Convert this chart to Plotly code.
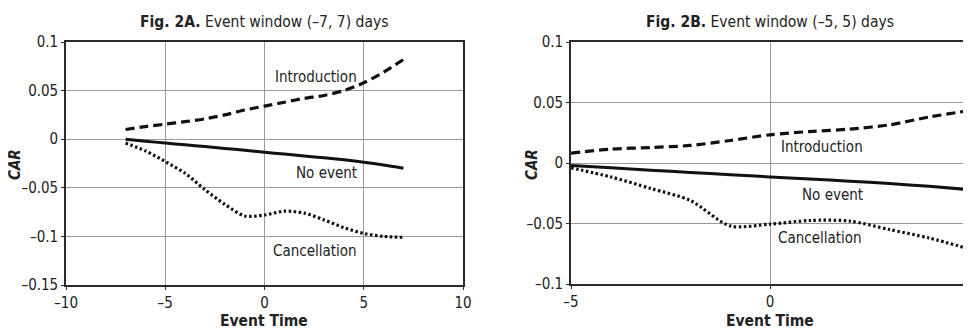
import plotly.graph_objects as go

# ---- data ----
days_a = [-7, -6, -5, -4, -3, -2, -1, 0, 1, 2, 3, 4, 5, 6, 7]
intro_a = [0.010, 0.013, 0.0155, 0.018, 0.021, 0.025, 0.030, 0.034, 0.038, 0.042, 0.045, 0.050, 0.058, 0.069, 0.082]
noevent_a = [0.0, -0.002, -0.004, -0.0058, -0.0076, -0.0095, -0.0114, -0.0134, -0.0153, -0.0172, -0.0192, -0.0212, -0.0236, -0.0265, -0.0298]
cancel_a = [-0.004, -0.012, -0.023, -0.035, -0.052, -0.067, -0.079, -0.078, -0.074, -0.076, -0.083, -0.091, -0.097, -0.100, -0.101]

days_b = [-5, -4, -3, -2, -1, 0, 1, 2, 3, 4, 5]
intro_b = [0.0082, 0.0115, 0.0128, 0.0145, 0.0186, 0.0233, 0.026, 0.028, 0.0315, 0.038, 0.0433]
noevent_b = [-0.002, -0.004, -0.006, -0.0078, -0.0097, -0.0115, -0.0133, -0.015, -0.017, -0.0193, -0.022]
cancel_b = [-0.004, -0.0115, -0.021, -0.031, -0.052, -0.0505, -0.0475, -0.048, -0.055, -0.062, -0.071]

xticks_a = [-10, -5, 0, 5, 10]
yticks_a = [0.1, 0.05, 0, -0.05, -0.1, -0.15]
xticks_b = [-5, 0, 5]
yticks_b = [0.1, 0.05, 0, -0.05, -0.1]

def lab(v):
    s = ("%g" % v)
    return s.replace("-", "\u2013")

FONT = "Liberation Sans Narrow, Arial Narrow, DejaVu Sans Condensed, sans-serif"
LINE = "#111111"

W, H = 971.0, 329.0
OX, OY = 8.0, 8.0  # page body margin


def px(xp):
    return (xp - OX) / W


def py(yp):
    return 1 - (yp - OY) / H


fig = go.Figure()

def add_series(x, ys, xa, ya):
    styles = [("9px,5px", 3.2), ("solid", 3.0), ("2.5px,2.5px", 3.2)]
    for y, (d, w) in zip(ys, styles):
        fig.add_trace(go.Scatter(x=x, y=y, mode="lines", xaxis=xa, yaxis=ya,
                                 line=dict(color=LINE, width=w, dash=d, shape="spline", smoothing=0.8),
                                 showlegend=False, hoverinfo="skip"))

add_series(days_a, [intro_a, noevent_a, cancel_a], "x", "y")
add_series(days_b, [intro_b, noevent_b, cancel_b], "x2", "y2")

axcommon = dict(showgrid=True, gridcolor="#9a9a9a", gridwidth=1.2, zeroline=False,
                showline=True, linecolor="#2a2a2a", linewidth=1.6, mirror=True,
                ticks="outside", ticklen=3, tickcolor="#2a2a2a", automargin=False,
                tickfont=dict(family=FONT, size=15, color="#222"))

fig.update_layout(
    template="none",
    width=W, height=H,
    margin=dict(l=0, r=0, t=0, b=0, autoexpand=False),
    paper_bgcolor="white", plot_bgcolor="white",
    xaxis=dict(domain=[px(66), px(463)], range=[-10, 10], tickvals=xticks_a,
               ticktext=[lab(v) for v in xticks_a], anchor="y", **axcommon),
    yaxis=dict(domain=[py(285), py(42)], range=[-0.15, 0.1], tickvals=yticks_a,
               ticktext=[lab(v) for v in yticks_a], anchor="x", **axcommon),
    xaxis2=dict(domain=[px(571), px(969)], range=[-5, 5], tickvals=xticks_b,
                ticktext=[lab(v) for v in xticks_b], anchor="y2", **axcommon),
    yaxis2=dict(domain=[py(284), py(42)], range=[-0.1, 0.1], tickvals=yticks_b,
                ticktext=[lab(v) for v in yticks_b], anchor="x2", **axcommon),
)

def ann(text, x, y, size=15, angle=0):
    fig.add_annotation(text=text, x=px(x), y=py(y), xref="paper", yref="paper", showarrow=False,
                       textangle=angle, font=dict(family=FONT, size=size, color="#222"),
                       xanchor="center", yanchor="middle")

# titles (page-pixel positions)
ann("<b>Fig. 2A.</b> Event window (\u20137, 7) days", 264, 22, size=15.5)
ann("<b>Fig. 2B.</b> Event window (\u20135, 5) days", 770, 22, size=15.5)
ann("<b><i>CAR</i></b>", 15, 165, size=15, angle=-90)
ann("<b><i>CAR</i></b>", 532, 165, size=15, angle=-90)
ann("<b>Event Time</b>", 264, 321, size=15.5)
ann("<b>Event Time</b>", 770, 321, size=15.5)

# line labels
ann("Introduction", 316, 77)
ann("No event", 326, 173)
ann("Cancellation", 315, 251)
ann("Introduction", 822, 147)
ann("No event", 832, 195)
ann("Cancellation", 820, 238)

fig.write_html("out.html")
